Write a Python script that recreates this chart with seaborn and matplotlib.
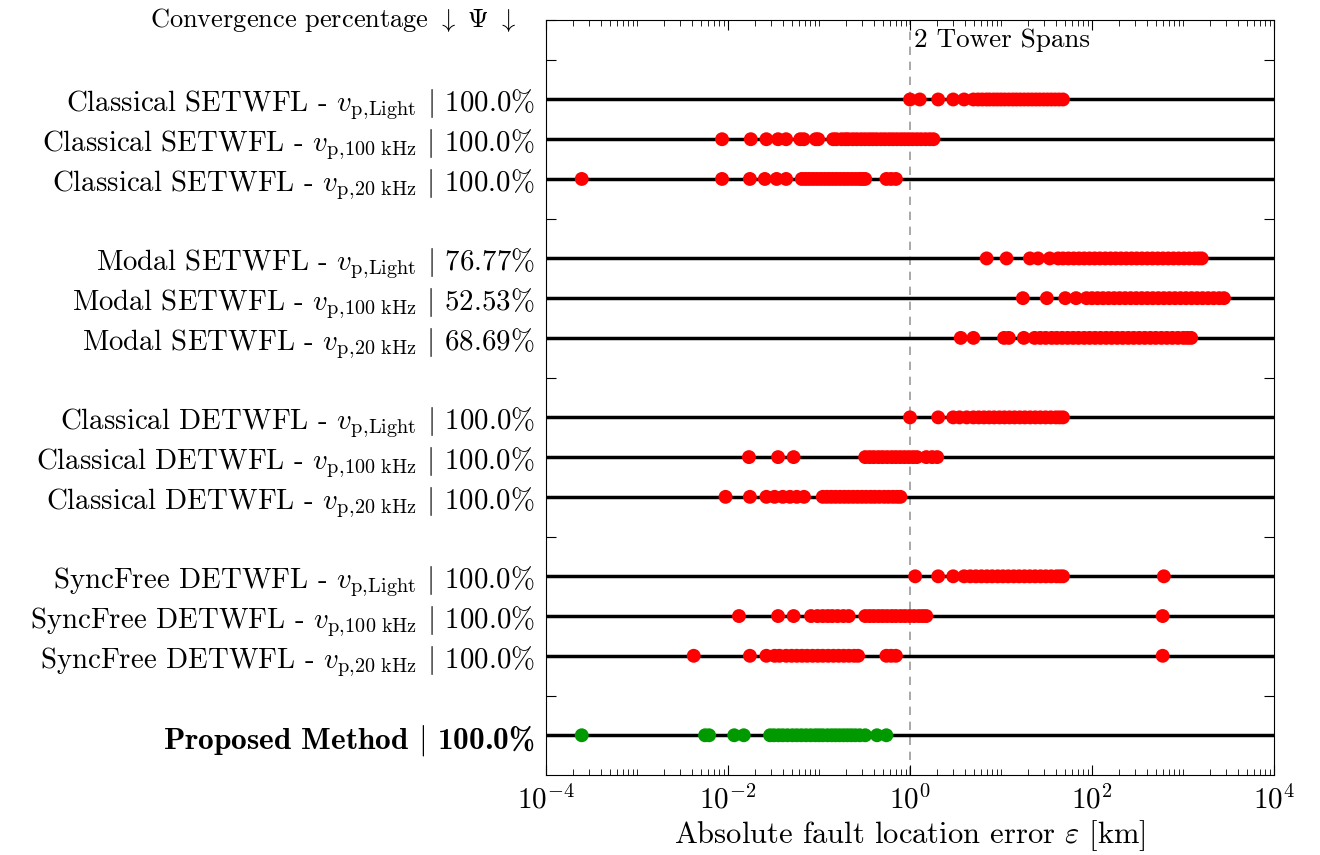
import matplotlib
matplotlib.use("Agg")
import matplotlib.pyplot as plt
import matplotlib.ticker as mticker
import seaborn as sns
import pandas as pd
import numpy as np

# row labels (top to bottom) and their slot on the y axis
labels = [
    r"Classical SETWFL - $v_{\mathrm{p,\!Light}}$ $|$ 100.0%",
    r"Classical SETWFL - $v_{\mathrm{p,\!100\ kHz}}$ $|$ 100.0%",
    r"Classical SETWFL - $v_{\mathrm{p,\!20\ kHz}}$ $|$ 100.0%",
    r"Modal SETWFL - $v_{\mathrm{p,\!Light}}$ $|$ 76.77%",
    r"Modal SETWFL - $v_{\mathrm{p,\!100\ kHz}}$ $|$ 52.53%",
    r"Modal SETWFL - $v_{\mathrm{p,\!20\ kHz}}$ $|$ 68.69%",
    r"Classical DETWFL - $v_{\mathrm{p,\!Light}}$ $|$ 100.0%",
    r"Classical DETWFL - $v_{\mathrm{p,\!100\ kHz}}$ $|$ 100.0%",
    r"Classical DETWFL - $v_{\mathrm{p,\!20\ kHz}}$ $|$ 100.0%",
    r"SyncFree DETWFL - $v_{\mathrm{p,\!Light}}$ $|$ 100.0%",
    r"SyncFree DETWFL - $v_{\mathrm{p,\!100\ kHz}}$ $|$ 100.0%",
    r"SyncFree DETWFL - $v_{\mathrm{p,\!20\ kHz}}$ $|$ 100.0%",
    r"Proposed Method $|$ 100.0%",
]
positions = [2, 3, 4, 6, 7, 8, 10, 11, 12, 14, 15, 16, 18]
gap_positions = [1, 5, 9, 13, 17]

# absolute fault location errors in km
cls_se_light = [1.0, 1.28, 2.04, 2.98, 3.93, 4.97, 5.6, 6.2, 6.9, 7.5, 8.3, 9.1, 10.0, 11.0,
                12.2, 13.5, 14.8, 16.3, 18.0, 19.9, 21.9, 24.2, 26.6, 29.4, 32.4, 35.7, 39.4,
                43.5, 48.0]
cls_se_100k = [0.0086, 0.0178, 0.0264, 0.0355, 0.0435, 0.0622, 0.068, 0.092, 0.098, 0.143,
               0.155, 0.177, 0.195, 0.21, 0.235, 0.26, 0.29, 0.32, 0.355, 0.39, 0.43, 0.48,
               0.53, 0.59, 0.65, 0.72, 0.80, 0.88, 0.97, 1.07, 1.19, 1.32, 1.48, 1.65, 1.81]
cls_se_20k = [2.47e-4, 0.0086, 0.0174, 0.0254, 0.0342, 0.0435, 0.0646, 0.071, 0.078, 0.086,
              0.095, 0.105, 0.116, 0.128, 0.141, 0.155, 0.171, 0.189, 0.208, 0.23, 0.254,
              0.28, 0.30, 0.322, 0.55, 0.62, 0.70]
mod_se_light = [6.95, 11.5, 20.8, 25.5, 34.3, 42.5, 48, 55, 63, 72, 82, 94, 107, 122, 140,
                160, 182, 208, 238, 272, 310, 354, 405, 462, 528, 603, 689, 787, 899, 1027,
                1173, 1340, 1480, 1607]
mod_se_100k = [17.4, 31.9, 50.8, 66.8, 86.9, 100, 115, 132, 152, 175, 201, 231, 266, 306,
               352, 405, 466, 536, 616, 709, 815, 938, 1079, 1241, 1427, 1641, 1888, 2171,
               2497, 2820]
mod_se_20k = [3.61, 4.98, 10.8, 12.2, 17.8, 23.4, 27, 31, 36, 41, 47, 54, 62, 71, 82, 94,
              108, 124, 143, 164, 189, 217, 250, 287, 330, 380, 437, 502, 578, 664, 764,
              879, 1010, 1120, 1230]
cls_de_light = [1.0, 2.04, 2.98, 3.5, 4.2, 4.97, 5.7, 6.5, 7.4, 8.4, 9.6, 10.9, 12.4, 14.1,
                16.1, 18.3, 20.9, 23.8, 27.1, 30.9, 35.2, 40.1, 44, 48]
cls_de_100k = [0.017, 0.0355, 0.0526, 0.322, 0.36, 0.40, 0.45, 0.50, 0.56, 0.63, 0.70, 0.78,
               0.87, 0.97, 1.08, 1.19, 1.51, 1.75, 1.99]
cls_de_20k = [0.0094, 0.0174, 0.0264, 0.0325, 0.040, 0.048, 0.057, 0.0684, 0.110, 0.122,
              0.136, 0.152, 0.170, 0.190, 0.212, 0.237, 0.265, 0.296, 0.33, 0.37, 0.41,
              0.46, 0.52, 0.58, 0.65, 0.72, 0.785]
sync_de_light = [1.14, 2.04, 2.98, 3.93, 4.6, 5.3, 6.1, 7.0, 8.0, 9.2, 10.5, 12.0, 13.8,
                 15.8, 18.1, 20.7, 23.7, 27.2, 31.1, 35.6, 40.8, 44.5, 48, 616]
sync_de_100k = [0.0132, 0.0355, 0.0526, 0.0818, 0.096, 0.11, 0.125, 0.14, 0.16, 0.185,
                0.212, 0.322, 0.36, 0.40, 0.45, 0.50, 0.56, 0.63, 0.70, 0.79, 0.88, 0.99,
                1.11, 1.25, 1.38, 1.51, 598]
sync_de_20k = [0.0042, 0.0174, 0.0264, 0.0325, 0.0368, 0.0435, 0.050, 0.057, 0.065, 0.074,
               0.085, 0.097, 0.11, 0.126, 0.144, 0.164, 0.187, 0.213, 0.243, 0.269, 0.55,
               0.62, 0.70, 598]
proposed = [2.47e-4, 0.0056, 0.0062, 0.0117, 0.0149, 0.029, 0.032, 0.036, 0.040, 0.045,
            0.051, 0.057, 0.064, 0.072, 0.081, 0.091, 0.100, 0.110, 0.124, 0.138, 0.152,
            0.168, 0.186, 0.205, 0.226, 0.25, 0.28, 0.322, 0.434, 0.55]

series = [cls_se_light, cls_se_100k, cls_se_20k, mod_se_light, mod_se_100k, mod_se_20k,
          cls_de_light, cls_de_100k, cls_de_20k, sync_de_light, sync_de_100k, sync_de_20k,
          proposed]

rows = []
for pos, vals in zip(positions, series):
    kind = "proposed" if pos == positions[-1] else "baseline"
    for v in vals:
        rows.append({"error": v, "pos": pos, "kind": kind})
df = pd.DataFrame(rows)

sns.set_style("ticks")
plt.rcParams["font.family"] = ["cmr10", "DejaVu Serif"]
plt.rcParams["mathtext.fontset"] = "cm"
plt.rcParams["axes.formatter.use_mathtext"] = True
for key in ["text.color", "axes.labelcolor", "axes.edgecolor", "xtick.color", "ytick.color"]:
    plt.rcParams[key] = "black"

fig = plt.figure(figsize=(13.2, 8.55), dpi=100)
ax = fig.add_axes([546 / 1320, 1 - 775 / 855, 728 / 1320, 755 / 855])

for pos in positions:
    ax.axhline(pos, color="black", lw=2.5, zorder=1)
ax.axvline(1.0, color="#999999", ls=(0, (5, 4)), lw=1.2, zorder=0)

sns.scatterplot(data=df, x="error", y="pos", hue="kind",
                palette={"baseline": "#ff0000", "proposed": "#009900"},
                s=100, edgecolor="none", legend=False, zorder=3, ax=ax)

ax.set_xscale("log")
ax.set_xlim(1e-4, 1e4)
ax.set_ylim(19, 0)
ax.set_xticks([1e-4, 1e-2, 1, 1e2, 1e4])
ax.xaxis.set_minor_locator(mticker.LogLocator(base=10, subs=np.arange(1, 10), numticks=20))
ax.xaxis.set_minor_formatter(mticker.NullFormatter())

yticks = [0] + gap_positions + positions
yticklabels = [""] * (1 + len(gap_positions)) + labels
ax.set_yticks(yticks)
ax.set_yticklabels(yticklabels)
ax.tick_params(axis="both", which="both", direction="in", top=True, right=True)
ax.tick_params(axis="y", which="major", length=7, labelsize=20.8, pad=8)
ax.tick_params(axis="x", which="major", length=7, labelsize=21, pad=7)
ax.tick_params(axis="x", which="minor", length=4)
bold = ax.get_yticklabels()[-1]
bold.set_fontfamily(["cmb10", "DejaVu Serif"])
bold.set_fontsize(22.5)

ax.text(-0.04, 0.0, r"Convergence percentage $\downarrow$ $\Psi$ $\downarrow$",
        transform=ax.get_yaxis_transform(), fontsize=19, ha="right", va="center")
ax.text(1.12, 0.5, "2 Tower Spans", fontsize=19.5, va="center", ha="left")
ax.set_xlabel(r"Absolute fault location error $\varepsilon$ [km]", fontsize=22, labelpad=3)
ax.set_ylabel("")
for sp in ax.spines.values():
    sp.set_linewidth(0.8)

fig.savefig("out.png", dpi=100)
